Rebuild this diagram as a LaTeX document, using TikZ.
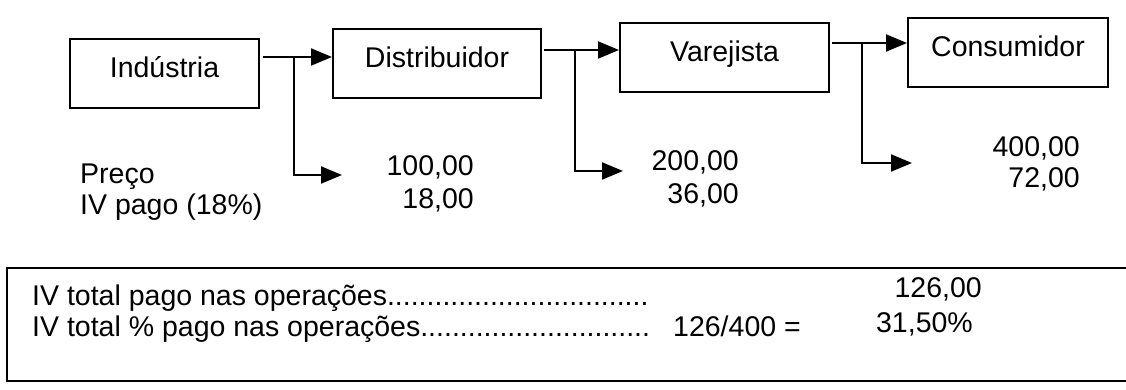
\documentclass[tikz,border=0pt]{standalone}
\usepackage{fontspec}
\setmainfont{Liberation Sans}
\usetikzlibrary{arrows.meta}
\begin{document}
\begin{tikzpicture}[x=1pt,y=-1pt,
  lbl/.style={font=\fontsize{28.5}{34}\selectfont},
  box/.style={lbl, draw, line width=2pt, inner sep=0pt, text height=39pt, text depth=30pt, anchor=base},
  txt/.style={lbl, inner sep=0pt},
  conn/.style={line width=2pt, -{Triangle[length=21pt,width=17pt]}},
  frame/.style={line width=2pt}
]
\useasboundingbox (0,0) rectangle (1126,390);
% boxes
\node[box, minimum width=189pt] (ind)  at (164.5,78) {Indústria};
\node[box, minimum width=208pt] (dist) at (437,68)   {Distribuidor};
\node[box, minimum width=209pt] (var)  at (724.5,62) {Varejista};
\node[box, minimum width=200pt] (cons) at (1008,57)  {Consumidor};
% junctions and free ends
\coordinate (j1) at (294,57);
\coordinate (j2) at (575,50);
\coordinate (j3) at (862,43);
\coordinate (t1) at (342,175);
\coordinate (t2) at (623,171);
\coordinate (t3) at (912,163);
% main connectors
\draw[conn] ([xshift=3pt]ind.east |- j1) -- (dist.west |- j1);
\draw[conn] ([xshift=2pt]dist.east |- j2) -- (var.west |- j2);
\draw[conn] ([xshift=2pt]var.east |- j3) -- (cons.west |- j3);
% branches
\draw[conn] (j1) |- (t1);
\draw[conn] (j2) |- (t2);
\draw[conn] (j3) |- (t3);
% labels
\node[txt, anchor=base west] (preco) at (80,184) {Preço};
\node[txt, anchor=base west] (ivp)   at (80,214) {IV pago (18\%)};
\node[txt, anchor=base east] (p1) at (474,175.5) {100,00};
\node[txt, anchor=base east] (i1) at (474,208.5) {18,00};
\node[txt, anchor=base east] (p2) at (739,171) {200,00};
\node[txt, anchor=base east] (i2) at (739,204) {36,00};
\node[txt, anchor=base east] (p3) at (1080,157) {400,00};
\node[txt, anchor=base east] (i3) at (1080,188) {72,00};
% bottom frame
\draw[frame] (1130,268) -- (7,268) -- (7,381) -- (1130,381);
\node[txt, anchor=base west] (l1) at (32,305) {IV total pago nas operações.................................};
\node[txt, anchor=base west] (l2) at (32,336) {IV total \% pago nas operações.............................};
\node[txt, anchor=base west] (calc) at (673,336) {126/400 =};
\node[txt, anchor=base east] (tot) at (982,297) {126,00};
\node[txt, anchor=base east] (pct) at (973,332) {31,50\%};
\end{tikzpicture}
\end{document}
